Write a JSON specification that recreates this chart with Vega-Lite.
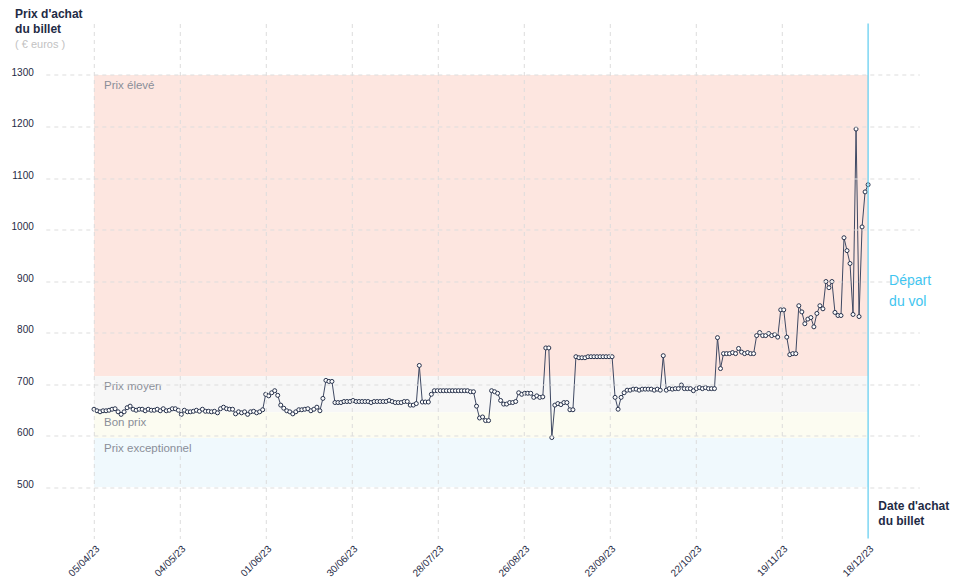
{
  "$schema": "https://vega.github.io/schema/vega-lite/v6.json",
  "width": 873.5,
  "height": 515,
  "autosize": "none",
  "padding": {"left": 45.8, "top": 23.5, "right": 38.7, "bottom": 46.5},
  "config": {
    "view": {"stroke": null},
    "font": "Liberation Sans"
  },
  "title": {
    "text": ["Prix d'achat", "du billet"],
    "subtitle": "( € euros )",
    "anchor": "start",
    "frame": "bounds",
    "offset": -28.5,
    "dx": 4,
    "fontSize": 12,
    "fontWeight": "bold",
    "color": "#1f2b45",
    "lineHeight": 15,
    "subtitleFontSize": 11,
    "subtitleColor": "#c2c2c2",
    "subtitlePadding": 3
  },
  "datasets": {
    "bands": [
      {"zone": "Prix élevé", "d": "2023-04-05", "d2": "2023-12-18", "p": 1300, "p2": 715},
      {"zone": "Prix moyen", "d": "2023-04-05", "d2": "2023-12-18", "p": 715, "p2": 645},
      {"zone": "Bon prix", "d": "2023-04-05", "d2": "2023-12-18", "p": 645, "p2": 595},
      {"zone": "Prix exceptionnel", "d": "2023-04-05", "d2": "2023-12-18", "p": 595, "p2": 500}
    ],
    "depart": [
      {"d": "2023-12-18", "note": "Départ\ndu vol"}
    ],
    "prices": [
      {"d":"2023-04-05","p":651},{"d":"2023-04-06","p":648},{"d":"2023-04-07","p":646},{"d":"2023-04-08","p":648},{"d":"2023-04-09","p":648},
      {"d":"2023-04-10","p":649},{"d":"2023-04-11","p":651},{"d":"2023-04-12","p":652},{"d":"2023-04-13","p":646},{"d":"2023-04-14","p":641},
      {"d":"2023-04-15","p":646},{"d":"2023-04-16","p":654},{"d":"2023-04-17","p":657},{"d":"2023-04-18","p":651},{"d":"2023-04-19","p":649},
      {"d":"2023-04-20","p":651},{"d":"2023-04-21","p":651},{"d":"2023-04-22","p":648},{"d":"2023-04-23","p":651},{"d":"2023-04-24","p":649},
      {"d":"2023-04-25","p":649},{"d":"2023-04-26","p":651},{"d":"2023-04-27","p":648},{"d":"2023-04-28","p":652},{"d":"2023-04-29","p":648},
      {"d":"2023-04-30","p":649},
      {"d":"2023-05-01","p":652},{"d":"2023-05-02","p":652},{"d":"2023-05-03","p":649},{"d":"2023-05-04","p":641},{"d":"2023-05-05","p":649},
      {"d":"2023-05-06","p":646},{"d":"2023-05-07","p":646},{"d":"2023-05-08","p":647},{"d":"2023-05-09","p":649},{"d":"2023-05-10","p":647},
      {"d":"2023-05-11","p":651},{"d":"2023-05-12","p":647},{"d":"2023-05-13","p":647},{"d":"2023-05-14","p":646},{"d":"2023-05-15","p":647},
      {"d":"2023-05-16","p":644},{"d":"2023-05-17","p":652},{"d":"2023-05-18","p":655},{"d":"2023-05-19","p":652},{"d":"2023-05-20","p":651},
      {"d":"2023-05-21","p":651},{"d":"2023-05-22","p":642},{"d":"2023-05-23","p":646},{"d":"2023-05-24","p":644},{"d":"2023-05-25","p":646},
      {"d":"2023-05-26","p":641},{"d":"2023-05-27","p":646},{"d":"2023-05-28","p":647},{"d":"2023-05-29","p":644},{"d":"2023-05-30","p":646},
      {"d":"2023-05-31","p":650},
      {"d":"2023-06-01","p":680},{"d":"2023-06-02","p":677},{"d":"2023-06-03","p":683},{"d":"2023-06-04","p":687},{"d":"2023-06-05","p":678},
      {"d":"2023-06-06","p":659},{"d":"2023-06-07","p":653},{"d":"2023-06-08","p":648},{"d":"2023-06-09","p":646},{"d":"2023-06-10","p":642},
      {"d":"2023-06-11","p":646},{"d":"2023-06-12","p":650},{"d":"2023-06-13","p":650},{"d":"2023-06-14","p":651},{"d":"2023-06-15","p":652},
      {"d":"2023-06-16","p":648},{"d":"2023-06-17","p":651},{"d":"2023-06-18","p":655},{"d":"2023-06-19","p":648},{"d":"2023-06-20","p":672},
      {"d":"2023-06-21","p":707},{"d":"2023-06-22","p":705},{"d":"2023-06-23","p":705},{"d":"2023-06-24","p":664},{"d":"2023-06-25","p":664},
      {"d":"2023-06-26","p":664},{"d":"2023-06-27","p":666},{"d":"2023-06-28","p":666},{"d":"2023-06-29","p":666},{"d":"2023-06-30","p":668},
      {"d":"2023-07-01","p":666},{"d":"2023-07-02","p":666},{"d":"2023-07-03","p":666},{"d":"2023-07-04","p":666},{"d":"2023-07-05","p":666},
      {"d":"2023-07-06","p":664},{"d":"2023-07-07","p":666},{"d":"2023-07-08","p":666},{"d":"2023-07-09","p":666},{"d":"2023-07-10","p":666},
      {"d":"2023-07-11","p":666},{"d":"2023-07-12","p":668},{"d":"2023-07-13","p":666},{"d":"2023-07-14","p":664},{"d":"2023-07-15","p":664},
      {"d":"2023-07-16","p":664},{"d":"2023-07-17","p":666},{"d":"2023-07-18","p":666},{"d":"2023-07-19","p":659},{"d":"2023-07-20","p":659},
      {"d":"2023-07-21","p":662},{"d":"2023-07-22","p":736},{"d":"2023-07-23","p":665},{"d":"2023-07-24","p":665},{"d":"2023-07-25","p":665},
      {"d":"2023-07-26","p":680},{"d":"2023-07-27","p":687},{"d":"2023-07-28","p":687},{"d":"2023-07-29","p":687},{"d":"2023-07-30","p":687},
      {"d":"2023-07-31","p":687},
      {"d":"2023-08-01","p":687},{"d":"2023-08-02","p":687},{"d":"2023-08-03","p":687},{"d":"2023-08-04","p":687},{"d":"2023-08-05","p":687},
      {"d":"2023-08-06","p":687},{"d":"2023-08-07","p":687},{"d":"2023-08-08","p":685},{"d":"2023-08-09","p":685},{"d":"2023-08-10","p":657},
      {"d":"2023-08-11","p":634},{"d":"2023-08-12","p":636},{"d":"2023-08-13","p":629},{"d":"2023-08-14","p":629},{"d":"2023-08-15","p":687},
      {"d":"2023-08-16","p":685},{"d":"2023-08-17","p":682},{"d":"2023-08-18","p":668},{"d":"2023-08-19","p":661},{"d":"2023-08-20","p":661},
      {"d":"2023-08-21","p":664},{"d":"2023-08-22","p":664},{"d":"2023-08-23","p":666},{"d":"2023-08-24","p":683},{"d":"2023-08-25","p":680},
      {"d":"2023-08-26","p":682},{"d":"2023-08-27","p":682},{"d":"2023-08-28","p":682},{"d":"2023-08-29","p":674},{"d":"2023-08-30","p":677},
      {"d":"2023-08-31","p":674},
      {"d":"2023-09-01","p":675},{"d":"2023-09-02","p":770},{"d":"2023-09-03","p":770},{"d":"2023-09-04","p":596},{"d":"2023-09-05","p":659},
      {"d":"2023-09-06","p":662},{"d":"2023-09-07","p":660},{"d":"2023-09-08","p":664},{"d":"2023-09-09","p":664},{"d":"2023-09-10","p":650},
      {"d":"2023-09-11","p":650},{"d":"2023-09-12","p":753},{"d":"2023-09-13","p":751},{"d":"2023-09-14","p":751},{"d":"2023-09-15","p":751},
      {"d":"2023-09-16","p":753},{"d":"2023-09-17","p":753},{"d":"2023-09-18","p":753},{"d":"2023-09-19","p":753},{"d":"2023-09-20","p":753},
      {"d":"2023-09-21","p":753},{"d":"2023-09-22","p":753},{"d":"2023-09-23","p":753},{"d":"2023-09-24","p":753},{"d":"2023-09-25","p":674},
      {"d":"2023-09-26","p":651},{"d":"2023-09-27","p":674},{"d":"2023-09-28","p":683},{"d":"2023-09-29","p":688},{"d":"2023-09-30","p":688},
      {"d":"2023-10-01","p":690},{"d":"2023-10-02","p":690},{"d":"2023-10-03","p":688},{"d":"2023-10-04","p":690},{"d":"2023-10-05","p":690},
      {"d":"2023-10-06","p":690},{"d":"2023-10-07","p":690},{"d":"2023-10-08","p":688},{"d":"2023-10-09","p":690},{"d":"2023-10-10","p":688},
      {"d":"2023-10-11","p":755},{"d":"2023-10-12","p":688},{"d":"2023-10-13","p":691},{"d":"2023-10-14","p":690},{"d":"2023-10-15","p":691},
      {"d":"2023-10-16","p":691},{"d":"2023-10-17","p":698},{"d":"2023-10-18","p":691},{"d":"2023-10-19","p":691},{"d":"2023-10-20","p":691},
      {"d":"2023-10-21","p":687},{"d":"2023-10-22","p":691},{"d":"2023-10-23","p":693},{"d":"2023-10-24","p":691},{"d":"2023-10-25","p":693},
      {"d":"2023-10-26","p":691},{"d":"2023-10-27","p":691},{"d":"2023-10-28","p":691},{"d":"2023-10-29","p":790},{"d":"2023-10-30","p":730},
      {"d":"2023-10-31","p":759},
      {"d":"2023-11-01","p":759},{"d":"2023-11-02","p":759},{"d":"2023-11-03","p":761},{"d":"2023-11-04","p":759},{"d":"2023-11-05","p":769},
      {"d":"2023-11-06","p":762},{"d":"2023-11-07","p":759},{"d":"2023-11-08","p":761},{"d":"2023-11-09","p":759},{"d":"2023-11-10","p":759},
      {"d":"2023-11-11","p":794},{"d":"2023-11-12","p":800},{"d":"2023-11-13","p":794},{"d":"2023-11-14","p":794},{"d":"2023-11-15","p":798},
      {"d":"2023-11-16","p":794},{"d":"2023-11-17","p":796},{"d":"2023-11-18","p":791},{"d":"2023-11-19","p":844},{"d":"2023-11-20","p":844},
      {"d":"2023-11-21","p":791},{"d":"2023-11-22","p":757},{"d":"2023-11-23","p":759},{"d":"2023-11-24","p":759},{"d":"2023-11-25","p":852},
      {"d":"2023-11-26","p":840},{"d":"2023-11-27","p":817},{"d":"2023-11-28","p":826},{"d":"2023-11-29","p":829},{"d":"2023-11-30","p":811},
      {"d":"2023-12-01","p":837},{"d":"2023-12-02","p":852},{"d":"2023-12-03","p":846},{"d":"2023-12-04","p":899},{"d":"2023-12-05","p":887},
      {"d":"2023-12-06","p":899},{"d":"2023-12-07","p":839},{"d":"2023-12-08","p":833},{"d":"2023-12-09","p":833},{"d":"2023-12-10","p":984},
      {"d":"2023-12-11","p":959},{"d":"2023-12-12","p":934},{"d":"2023-12-13","p":835},{"d":"2023-12-14","p":1195},{"d":"2023-12-15","p":831},
      {"d":"2023-12-16","p":1005},{"d":"2023-12-17","p":1073},{"d":"2023-12-18","p":1087}
    ]
  },
  "layer": [
    {
      "encoding": {
        "x": {
          "field": "d",
          "type": "temporal",
          "scale": {"type": "utc", "domain": [1679270400000, 1704326400000]},
          "axis": {
            "values": [1680652800000, 1683120000000, 1685587200000, 1688054400000, 1690521600000,
                       1692988800000, 1695456000000, 1697923200000, 1700390400000, 1702857600000],
            "labelExpr": "utcFormat(time(datum.value) + 43200000, '%d/%m/%y')",
            "labelAngle": -45,
            "labelFontSize": 10,
            "labelColor": "#1f2b45",
            "labelPadding": 5,
            "labelOverlap": false,
            "ticks": false,
            "domain": false,
            "grid": true,
            "gridColor": {
              "condition": {"test": "time(datum.value) >= 1702857600000", "value": "transparent"},
              "value": "#dddddd"
            },
            "gridDash": [4, 4],
            "gridWidth": 1,
            "zindex": 1,
            "title": ["Date d'achat", "du billet"],
            "titleX": 832,
            "titleY": -38,
            "titleAnchor": null,
            "titleAlign": "left",
            "titleBaseline": "top",
            "titleAngle": 0,
            "titleFontSize": 12,
            "titleFontWeight": "bold",
            "titleColor": "#1f2b45",
            "titleLineHeight": 15
          }
        },
        "y": {
          "field": "p",
          "type": "quantitative",
          "scale": {"domain": [400, 1400], "nice": false, "zero": false},
          "axis": {
            "values": [500, 550, 600, 650, 700, 750, 800, 850, 900, 950, 1000, 1050, 1100, 1150, 1200, 1250, 1300],
            "format": "d",
            "labelFontSize": 10,
            "labelColor": "#1f2b45",
            "labelPadding": 12.5,
            "labelBaseline": "alphabetic",
            "ticks": false,
            "domain": false,
            "grid": true,
            "gridColor": "#dddddd",
            "gridDash": [4, 4],
            "gridWidth": 1,
            "zindex": 1,
            "title": null
          }
        }
      },
      "layer": [
        {
          "data": {"name": "bands"},
          "mark": {"type": "rect"},
          "encoding": {
            "x2": {"field": "d2"},
            "y2": {"field": "p2"},
            "color": {
              "field": "zone",
              "type": "nominal",
              "scale": {
                "domain": ["Prix élevé", "Prix moyen", "Bon prix", "Prix exceptionnel"],
                "range": ["#fde6e0", "#f7f7f7", "#fcfcf1", "#f0f9fd"]
              },
              "legend": null
            }
          }
        },
        {
          "data": {"name": "bands"},
          "mark": {"type": "text", "align": "left", "baseline": "top", "dx": 10, "dy": 5, "fontSize": 11.5, "color": "#8a8e98"},
          "encoding": {
            "text": {"field": "zone"}
          }
        },
        {
          "data": {"name": "prices"},
          "mark": {"type": "line", "color": "#3f4963", "strokeWidth": 1}
        },
        {
          "data": {"name": "prices"},
          "mark": {"type": "point", "shape": "circle", "filled": true, "fill": "#ffffff", "stroke": "#27324c", "strokeWidth": 1, "size": 16, "opacity": 1}
        }
      ]
    },
    {
      "data": {"name": "depart"},
      "mark": {"type": "rule", "color": "#5ccbef", "strokeWidth": 1.2},
      "encoding": {
        "x": {"field": "d", "type": "temporal", "scale": {"type": "utc"}}
      }
    },
    {
      "data": {"name": "depart"},
      "mark": {"type": "text", "align": "left", "baseline": "middle", "dx": 21, "fontSize": 14, "lineHeight": 21, "lineBreak": "\n", "color": "#3fc5f0"},
      "encoding": {
        "x": {"field": "d", "type": "temporal", "scale": {"type": "utc"}},
        "y": {"datum": 900, "type": "quantitative"},
        "text": {"field": "note"}
      }
    }
  ]
}
